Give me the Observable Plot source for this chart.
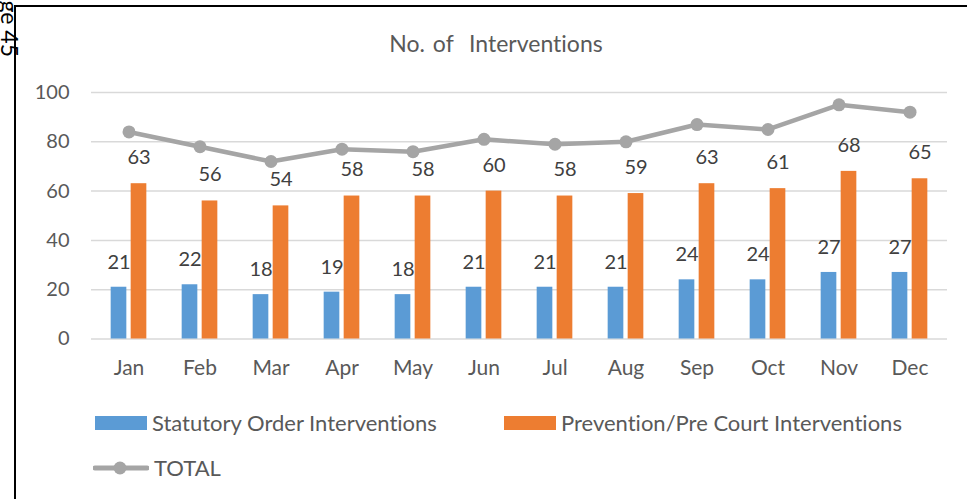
<!DOCTYPE html>
<html>
<head>
<meta charset="utf-8">
<script src="https://cdn.jsdelivr.net/npm/d3@7"></script>
<script src="https://cdn.jsdelivr.net/npm/@observablehq/plot@0.6"></script>
<style>
  html, body { margin: 0; padding: 0; background: #fff; }
  #page { position: relative; width: 967px; height: 499px; overflow: hidden; font-family: Lato, "Noto Sans", sans-serif; color: #595959; font-variant-ligatures: none; font-feature-settings: "liga" 0, "clig" 0; }
  #page svg text { font-variant-ligatures: none; font-feature-settings: "liga" 0, "clig" 0; }
  #frame { position: absolute; left: 14px; top: 5px; width: 960px; height: 500px; border-left: 2px solid #000; border-top: 2px solid #000; box-sizing: border-box; }
  #deco { position: absolute; left: 0; top: 0; }
  #title { position: absolute; left: 0; width: 992px; top: 29px; text-align: center; font-size: 23px; word-spacing: 2px; color: #595959; white-space: pre; }
  #chart { position: absolute; left: 0; top: 0; }
  .leg { position: absolute; display: flex; align-items: center; font-size: 22px; color: #595959; white-space: nowrap; }
  .leg svg { margin-right: 5px; }
</style>
</head>
<body>
<div id="page">
  <div id="frame"></div>
  <svg id="deco" width="967" height="499"><text transform="translate(1,57) rotate(90)" text-anchor="end" font-family="Lato, sans-serif" font-size="23" fill="#000">Page 45</text></svg>
  <div id="chart"></div>
  <div id="title">No. of  Interventions</div>
  <div class="leg" style="left:95px; top:409px;"><svg width="52" height="14"><rect width="52" height="14" fill="#5B9BD5"/></svg>Statutory Order Interventions</div>
  <div class="leg" style="left:504px; top:409px;"><svg width="52" height="14"><rect width="52" height="14" fill="#ED7D31"/></svg>Prevention/Pre Court Interventions</div>
  <div class="leg" style="left:93px; top:454px;"><svg width="56" height="14"><line x1="2" y1="7" x2="54" y2="7" stroke="#A5A5A5" stroke-width="5" stroke-linecap="round"/><circle cx="27" cy="7" r="6.5" fill="#A5A5A5"/></svg>TOTAL</div>
</div>
<script>
const months = ["Jan","Feb","Mar","Apr","May","Jun","Jul","Aug","Sep","Oct","Nov","Dec"];
const statutory = [21,22,18,19,18,21,21,21,24,24,27,27];
const prevention = [63,56,54,58,58,60,58,59,63,61,68,65];
const total = [84,78,72,77,76,81,79,80,87,85,95,92];
const yTicks = [0,20,40,60,80,100];

const blueData = months.map((m,i)=>({month:m, value:statutory[i]}));
const orangeData = months.map((m,i)=>({month:m, value:prevention[i]}));
const totalData = months.map((m,i)=>({month:m, value:total[i]}));

const W = 967, H = 400, mL = 91, mR = 20, mT = 92, mB = 61.5;
const band = (W - mL - mR) / months.length;
const barW = 16, off = 10;
const blueL = band/2 - off - barW/2, blueR = band - blueL - barW;
const orangeL = band/2 + off - barW/2, orangeR = band - orangeL - barW;

const chart = Plot.plot({
  width: W, height: H,
  marginLeft: mL, marginRight: mR, marginTop: mT, marginBottom: mB,
  style: {fontFamily: "Lato, 'Noto Sans', sans-serif", fontSize: "20px", color: "#595959", background: "transparent"},
  x: {type: "band", domain: months, padding: 0},
  y: {domain: [0, 100]},
  marks: [
    Plot.ruleY(yTicks, {stroke: "#D9D9D9", strokeWidth: 1.5}),
    Plot.axisY({ticks: yTicks, tickSize: 0, tickPadding: 22, label: null, fontSize: 20, fill: "#595959"}),
    Plot.axisX({tickSize: 0, tickPadding: 21, label: null, fontSize: 21, fill: "#595959"}),
    Plot.barY(blueData, {x: "month", y: "value", fill: "#5B9BD5", insetLeft: blueL, insetRight: blueR}),
    Plot.barY(orangeData, {x: "month", y: "value", fill: "#ED7D31", insetLeft: orangeL, insetRight: orangeR}),
    Plot.text(blueData, {x: "month", y: "value", text: d => String(d.value), dx: -off, dy: -25, fontSize: 20, fill: "#404040"}),
    Plot.text(orangeData, {x: "month", y: "value", text: d => String(d.value), dx: off, dy: -26, fontSize: 20, fill: "#404040"}),
    Plot.lineY(totalData, {x: "month", y: "value", stroke: "#A5A5A5", strokeWidth: 4.5}),
    Plot.dot(totalData, {x: "month", y: "value", r: 6.5, fill: "#A5A5A5"})
  ]
});
document.getElementById("chart").appendChild(chart);
</script>
</body>
</html>
